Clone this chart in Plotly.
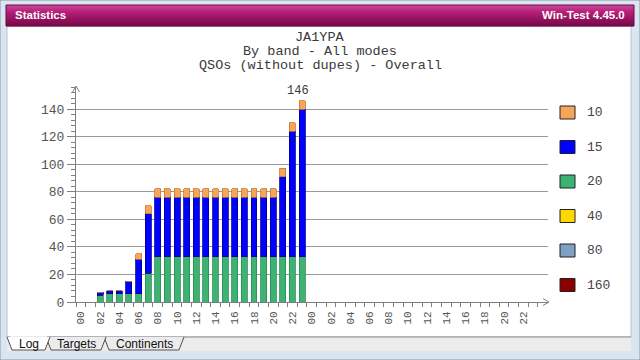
import plotly.graph_objects as go

# ---------------- data ----------------
hours = [2, 3, 4, 5, 6, 7, 8, 9, 10, 11, 12, 13, 14, 15, 16, 17, 18, 19, 20, 21, 22, 23]
qso_160 = [0, 0, 0, 0, 0, 0, 0, 0, 0, 0, 0, 0, 0, 0, 0, 0, 0, 0, 0, 0, 0, 0]
qso_80 = [0, 0, 0, 0, 0, 0, 0, 0, 0, 0, 0, 0, 0, 0, 0, 0, 0, 0, 0, 0, 0, 0]
qso_40 = [0, 0, 0, 0, 0, 0, 0, 0, 0, 0, 0, 0, 0, 0, 0, 0, 0, 0, 0, 0, 0, 0]
qso_20 = [5, 6, 6, 6, 6, 21, 33, 33, 33, 33, 33, 33, 33, 33, 33, 33, 33, 33, 33, 33, 33, 33]
qso_15 = [2, 2, 2, 9, 25, 43, 43, 43, 43, 43, 43, 43, 43, 43, 43, 43, 43, 43, 43, 58, 91, 107]
qso_10 = [0, 0, 0, 0, 4, 6, 6, 6, 6, 6, 6, 6, 6, 6, 6, 6, 6, 6, 6, 6, 6, 6]
total_label = "146"

bands = ["10", "15", "20", "40", "80", "160"]
band_colors = ["#f5a65b", "#0000ff", "#3cb371", "#ffd700", "#7f9fc4", "#8b0000"]
band_edges = ["#c9782e", "#00008b", "#2e8b57", "#b8a000", "#4f6f94", "#5a0000"]
x_tick_pos = list(range(0, 48, 2))
x_tick_text = ["00", "02", "04", "06", "08", "10", "12", "14", "16", "18", "20", "22",
               "00", "02", "04", "06", "08", "10", "12", "14", "16", "18", "20", "22"]
y_tick_pos = [0, 20, 40, 60, 80, 100, 120, 140]
title_lines = ["JA1YPA", "By band - All modes", "QSOs (without dupes) - Overall"]

# ---------------- geometry helpers ----------------
W, H = 640, 360
ML, MR, MT, MB = 76, 92, 87, 58
PW, PH = W - ML - MR, H - MT - MB


def fx(px):
    return (px - ML) / PW


def fy(py):
    return (H - MB - py) / PH


def rect(x0, y0, x1, y1, fill, line=None, lw=0, layer="below"):
    return dict(type="rect", xref="paper", yref="paper",
                x0=fx(x0), x1=fx(x1), y0=fy(y1), y1=fy(y0),
                fillcolor=fill, line=dict(color=line or fill, width=lw), layer=layer)


def path(points, color, lw=1, fill=None, close=False, layer="below"):
    d = "M " + " L ".join(f"{fx(x):.5f},{fy(y):.5f}" for x, y in points)
    if close:
        d += " Z"
    return dict(type="path", xref="paper", yref="paper", path=d,
                line=dict(color=color, width=lw),
                fillcolor=fill if fill else "rgba(0,0,0,0)", layer=layer)


fig = go.Figure()

series = {"160": qso_160, "80": qso_80, "40": qso_40, "20": qso_20, "15": qso_15, "10": qso_10}
for name in ["160", "80", "40", "20", "15", "10"]:
    i = bands.index(name)
    vals = series[name]
    fig.add_trace(go.Bar(
        x=hours, y=vals, name=name,
        marker=dict(color=band_colors[i],
                    line=dict(color=band_edges[i], width=0.8 if max(vals) > 0 else 0)),
        showlegend=False, hoverinfo="skip"))

shapes = []
# outer frame
shapes.append(rect(0, 0, 640, 360, "#dae5f2", line="#8a96a3", lw=1))
# white panel
shapes.append(rect(7, 26, 631, 337, "#ffffff", line="#b7c3cf", lw=1))
# title bar gradient
stops = [(0.0, (205, 70, 155)), (0.35, (180, 30, 120)), (1.0, (118, 8, 72))]


def lerp_col(t):
    for (t0, c0), (t1, c1) in zip(stops[:-1], stops[1:]):
        if t <= t1:
            f = (t - t0) / (t1 - t0)
            return "rgb(%d,%d,%d)" % tuple(int(c0[k] + (c1[k] - c0[k]) * f) for k in range(3))
    return "rgb(%d,%d,%d)" % stops[-1][1]


nb = 21
y_top, y_bot = 5, 26
for k in range(nb):
    ya = y_top + (y_bot - y_top) * k / nb
    yb = y_top + (y_bot - y_top) * (k + 1) / nb
    shapes.append(rect(6, ya, 634, yb + 0.3, lerp_col((k + 0.5) / nb)))
shapes.append(rect(6, 5, 634, 26, "rgba(0,0,0,0)", line="#6a0a40", lw=1))

# tab strip
shapes.append(rect(7, 337, 631, 351, "#ececec"))
shapes.append(path([(7, 337), (631, 337)], "#8c8c8c", 1))
tabs = [(104, 184, False), (46, 106, False), (7, 50, True)]
for x0, x1, sel in tabs:
    shapes.append(path([(x0, 337), (x0 + 5, 350), (x1 - 5, 350), (x1, 337)],
                       "#505050", 1, fill="#ffffff" if sel else "#ececec"))
shapes.append(path([(10, 337), (47, 337)], "#ffffff", 1.5))

# axis arrows
shapes.append(path([(72.5, 92), (76, 86), (79.5, 92)], "#808080", 1, layer="above"))
shapes.append(path([(543, 298.5), (549, 302), (543, 305.5)], "#808080", 1, layer="above"))

# legend squares
leg_y0 = 112.5
leg_dy = 34.5
for i, b in enumerate(bands):
    yc = leg_y0 + i * leg_dy
    shapes.append(rect(560, yc - 6.5, 575, yc + 6.5, band_colors[i], line="#222222", lw=1, layer="above"))

annotations = []
for i, b in enumerate(bands):
    yc = leg_y0 + i * leg_dy
    annotations.append(dict(x=fx(585), y=fy(yc), xref="paper", yref="paper", text=b,
                            showarrow=False, xanchor="left", yanchor="middle",
                            font=dict(family="Liberation Mono", size=13, color="#444444")))

for j, line in enumerate(title_lines):
    annotations.append(dict(x=fx(320), y=fy(37 + 14 * j), xref="paper", yref="paper", text=line,
                            showarrow=False, xanchor="center", yanchor="middle", height=14,
                            font=dict(family="Liberation Mono", size=13.5, color="#3a3a3a")))

annotations.append(dict(x=hours[-1], y=qso_20[-1] + qso_15[-1] + qso_10[-1], xref="x", yref="y",
                        text=total_label, showarrow=False, xanchor="center", yanchor="bottom",
                        yshift=1, xshift=-4,
                        font=dict(family="Liberation Mono", size=12, color="#3a3a3a")))

annotations.append(dict(x=fx(13), y=fy(15.5), xref="paper", yref="paper", text="<b>Statistics</b>",
                        showarrow=False, xanchor="left", yanchor="middle",
                        font=dict(family="Liberation Sans", size=11.5, color="#ffffff")))
annotations.append(dict(x=fx(627), y=fy(15.5), xref="paper", yref="paper", text="<b>Win-Test 4.45.0</b>",
                        showarrow=False, xanchor="right", yanchor="middle",
                        font=dict(family="Liberation Sans", size=11.5, color="#ffffff")))
for txt, xc in [("Log", 28.5), ("Targets", 76), ("Continents", 144)]:
    annotations.append(dict(x=fx(xc), y=fy(344), xref="paper", yref="paper", text=txt,
                            showarrow=False, xanchor="center", yanchor="middle",
                            font=dict(family="Liberation Sans", size=12, color="#111111")))

fig.update_layout(
    width=W, height=H,
    margin=dict(l=ML, r=MR, t=MT, b=MB, pad=0),
    paper_bgcolor="#dae5f2", plot_bgcolor="#ffffff",
    barmode="stack", bargap=0.38,
    showlegend=False,
    shapes=shapes, annotations=annotations,
    xaxis=dict(range=[-0.5, 48.56], tickmode="array", tickvals=x_tick_pos, ticktext=x_tick_text,
               tickangle=-90, ticks="outside", ticklen=4, tickcolor="rgba(0,0,0,0)",
               tickfont=dict(family="Liberation Mono", size=11, color="#555555"),
               showline=True, linecolor="#808080", linewidth=1, showgrid=False, zeroline=False,
               minor=dict(tickmode="array", tickvals=[v - 0.5 for v in range(49)],
                          ticks="outside", ticklen=4, tickcolor="#808080", showgrid=False)),
    yaxis=dict(range=[0, 156], tickmode="array", tickvals=y_tick_pos,
               ticks="outside", ticklen=8, tickcolor="#808080",
               tickfont=dict(family="Liberation Mono", size=13, color="#555555"),
               showline=True, linecolor="#808080", linewidth=1,
               showgrid=True, gridcolor="#9a9a9a", gridwidth=1, zeroline=False,
               minor=dict(dtick=4, tick0=0, ticks="outside", ticklen=4, tickcolor="#808080", showgrid=False)),
)

fig.write_html("out.html")
